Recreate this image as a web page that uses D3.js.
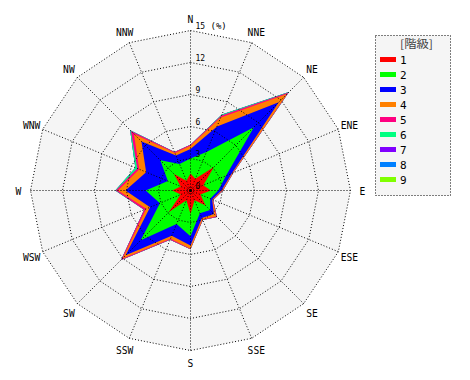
<!DOCTYPE html>
<html>
<head>
<meta charset="utf-8">
<script src="https://cdn.jsdelivr.net/npm/d3@7"></script>
<style>
html,body{margin:0;padding:0;background:#fff;}
svg{display:block;}
</style>
</head>
<body>
<svg id="chart" width="470" height="380"></svg>
<script>
// ---- data ----
const directions = ["N","NNE","NE","ENE","E","ESE","SE","SSE","S","SSW","SW","WSW","W","WNW","NW","NNW"];
const classes = ["1","2","3","4","5","6","7","8","9"];
const classColors = ["#ff0000","#00ff00","#0000ff","#ff8000","#ff0080","#00ff80","#8000ff","#0080ff","#80ff00"];
const radialTicks = [0,3,6,9,12,15];
const unitLabel = "(%)";
const legendTitle = "[階級]";
// frequency (%) per class, per direction (N, NNE, ..., NNW)
const class1 = [1.6,1.2,3.1,1.3,1.9,1.0,2.0,1.0,2.2,1.0,2.9,1.0,1.7,1.0,2.2,1.0];
const class2 = [1.4,2.7,5.3,2.3,0.7,1.0,0.6,1.3,2.1,2.4,3.7,2.1,2.5,1.3,1.8,1.7];
const class3 = [0.9,2.6,3.3,0.6,0.3,0.2,0.5,0.5,0.85,1.2,2.0,1.0,1.9,2.2,2.5,0.85];
const class4 = [0.3,0.9,1.1,0.1,0.1,0.05,0.3,0.15,0.3,0.3,0.4,0.4,0.7,0.7,1.0,0.25];
const class5 = [0.1,0.2,0.2,0.05,0.05,0.05,0.1,0.05,0.05,0.1,0.2,0.2,0.2,0.2,0.4,0.1];
const class6 = [0,0.1,0.05,0,0,0,0,0,0,0,0,0,0.05,0.2,0.1,0];
const class7 = [0,0,0,0,0,0,0,0,0,0,0,0,0,0,0,0];
const class8 = [0,0,0,0,0,0,0,0,0,0,0,0,0,0,0,0];
const class9 = [0,0,0,0,0,0,0,0,0,0,0,0,0,0,0,0];
const classValues = [class1,class2,class3,class4,class5,class6,class7,class8,class9];

// ---- layout ----
const cx = 190.5, cy = 190.5, R = 160;
const svg = d3.select("#chart");
const g = svg.append("g").attr("transform", `translate(${cx},${cy})`);
const r = d3.scaleLinear().domain([0, 15]).range([0, R]);
const n = directions.length;
const ang = d3.scaleLinear().domain([0, n]).range([0, 2 * Math.PI]);

const radial = d3.lineRadial()
  .angle((d, i) => ang(i))
  .radius(d => r(d))
  .curve(d3.curveLinearClosed);

// background
g.append("path")
  .attr("d", radial(directions.map(() => 15)))
  .attr("fill", "#f5f5f5");

// cumulative stacks
const cumulative = [];
classValues.forEach((vals, k) => {
  cumulative.push(vals.map((v, i) => v + (k > 0 ? cumulative[k - 1][i] : 0)));
});
for (let k = classValues.length - 1; k >= 0; k--) {
  g.append("path")
    .attr("d", radial(cumulative[k]))
    .attr("fill", classColors[k]);
}

// grid rings
radialTicks.filter(t => t > 0).forEach(t => {
  g.append("path")
    .attr("d", radial(directions.map(() => t)))
    .attr("fill", "none")
    .attr("stroke", "#000")
    .attr("stroke-width", 1)
    .attr("stroke-dasharray", "1,2");
});
// spokes
directions.forEach((d, i) => {
  const a = ang(i);
  g.append("line")
    .attr("x1", 0).attr("y1", 0)
    .attr("x2", r(15) * Math.sin(a))
    .attr("y2", -r(15) * Math.cos(a))
    .attr("stroke", "#000")
    .attr("stroke-width", 1)
    .attr("stroke-dasharray", "1,2");
});
g.append("circle").attr("r", 1.5).attr("fill", "#000");

// tick labels
radialTicks.forEach(t => {
  g.append("text")
    .attr("x", 5)
    .attr("y", -r(t) - 1.5)
    .attr("font-family", "DejaVu Sans Mono, monospace")
    .attr("font-size", 8)
    .attr("fill", "#000")
    .text(t);
});
g.append("text")
  .attr("x", 20)
  .attr("y", -r(15) - 1.5)
  .attr("font-family", "DejaVu Sans Mono, monospace")
  .attr("font-size", 9)
  .attr("fill", "#000")
  .text(unitLabel);

// direction labels
directions.forEach((d, i) => {
  const a = ang(i), lr = 172;
  g.append("text")
    .attr("x", lr * Math.sin(a))
    .attr("y", -lr * Math.cos(a) + 4.5)
    .attr("text-anchor", "middle")
    .attr("font-family", "DejaVu Sans Mono, monospace")
    .attr("font-size", 11)
    .attr("textLength", d.length * 5.8)
    .attr("lengthAdjust", "spacingAndGlyphs")
    .attr("fill", "#000")
    .text(d);
});

// legend
const lg = svg.append("g").attr("transform", "translate(375.5,35.5)");
lg.append("rect")
  .attr("width", 75).attr("height", 160)
  .attr("fill", "#f5f5f5")
  .attr("stroke", "#000")
  .attr("stroke-dasharray", "1,2");
lg.append("text")
  .attr("x", 41).attr("y", 12.5)
  .attr("text-anchor", "middle")
  .attr("font-family", "Noto Sans CJK JP, sans-serif")
  .attr("font-size", 11)
  .attr("textLength", 33)
  .attr("lengthAdjust", "spacingAndGlyphs")
  .attr("fill", "#444")
  .text(legendTitle);
const ly = d3.scalePoint().domain(classes).range([24, 144]);
classes.forEach((c, k) => {
  lg.append("rect")
    .attr("x", 4.5).attr("y", ly(c) - 2.5)
    .attr("width", 16).attr("height", 5)
    .attr("fill", classColors[k]);
  lg.append("text")
    .attr("x", 24.5).attr("y", ly(c) + 4)
    .attr("font-family", "DejaVu Sans Mono, monospace")
    .attr("font-size", 11)
    .attr("fill", "#000")
    .text(c);
});
</script>
</body>
</html>
